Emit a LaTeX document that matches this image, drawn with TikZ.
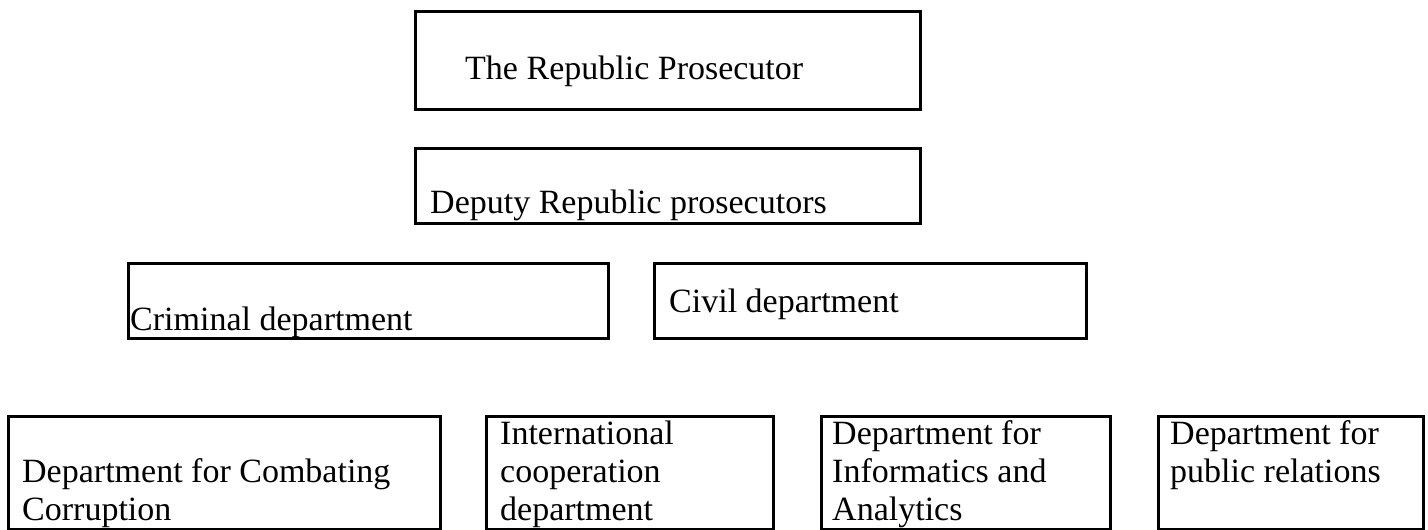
\documentclass[tikz,border=0pt]{standalone}
\usepackage{fontspec}
\setmainfont{Liberation Serif}
\begin{document}
\begin{tikzpicture}[x=1pt,y=-1pt,
  boxnode/.style={draw=black, line width=2.6pt, rectangle, inner sep=0pt, anchor=north west},
  lbl/.style={anchor=base west, inner sep=0pt, align=left, font=\fontsize{34}{38}\selectfont}]
\useasboundingbox[fill=white] (0,0) rectangle (1428,530);
% boxes
\node[boxnode, minimum width=505pt, minimum height=98pt] (b1) at (414,10) {};
\node[boxnode, minimum width=505pt, minimum height=75pt] (b2) at (414,147) {};
\node[boxnode, minimum width=480pt, minimum height=75pt] (b3) at (127,262) {};
\node[boxnode, minimum width=432pt, minimum height=75pt] (b4) at (653,262) {};
\node[boxnode, minimum width=432pt, minimum height=113pt] (b5) at (7,415) {};
\node[boxnode, minimum width=287pt, minimum height=113pt] (b6) at (485,415) {};
\node[boxnode, minimum width=289pt, minimum height=113pt] (b7) at (820,415) {};
\node[boxnode, minimum width=265pt, minimum height=113pt] (b8) at (1157,415) {};
% labels (base = baseline of last line)
\node[lbl] (t1) at (465,79) {The Republic Prosecutor};
\node[lbl] (t2) at (430,213) {Deputy Republic prosecutors};
\node[lbl] (t3) at (130,330) {Criminal department};
\node[lbl] (t4) at (669,312) {Civil department};
\node[lbl] (t5) at (22,520) {Department for Combating\\Corruption};
\node[lbl] (t6) at (500,520) {International\\cooperation\\department};
\node[lbl] (t7) at (832,520) {Department for\\Informatics and\\Analytics};
\node[lbl] (t8) at (1170,482) {Department for\\public relations};
\end{tikzpicture}
\end{document}
